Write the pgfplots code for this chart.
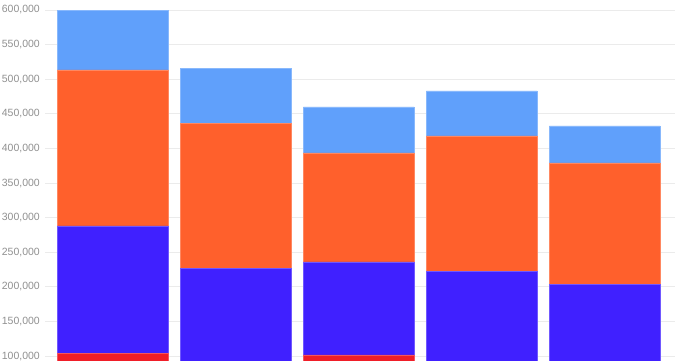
\documentclass[border=0pt]{standalone}
\usepackage{pgfplots}
\pgfplotsset{compat=1.18}
\usepackage{fontspec}
\setmainfont{Liberation Sans}
\definecolor{cLB}{HTML}{60A0FB}
\definecolor{cOR}{HTML}{FF602C}
\definecolor{cBL}{HTML}{4020FF}
\definecolor{cRD}{HTML}{F01E28}
\definecolor{cGrid}{HTML}{EBEBEB}
\definecolor{cTxt}{HTML}{909090}
\begin{document}
\begin{tikzpicture}
\begin{axis}[
  at={(0,-65.21pt)}, anchor=south west,
  width=630pt, height=415.21pt, scale only axis,
  ybar stacked, bar width=0.9,
  xmin=-0.55, xmax=4.57,
  ymin=0, ymax=600000,
  axis line style={draw=none},
  xtick=\empty,
  ytick={100000,150000,...,600000},
  ymajorgrids, grid style={cGrid, line width=0.8pt},
  major tick length=0pt,
  scaled y ticks=false,
  /pgf/number format/.cd, fixed, 1000 sep={,}, assume math mode=true,
  /pgfplots/.cd,
  yticklabel style={font=\fontsize{10.5}{12}\selectfont, text=cTxt, anchor=east, inner sep=0pt, xshift=-5pt},
]
\addplot[fill=cRD, draw=cRD!75!white, line width=0.6pt] coordinates {(0,104000) (1,80000) (2,101500) (3,78000) (4,76000)};
\addplot[fill=cBL, draw=cBL!75!white, line width=0.6pt] coordinates {(0,184000) (1,147000) (2,134500) (3,144500) (4,128000)};
\addplot[fill=cOR, draw=cOR!75!white, line width=0.6pt] coordinates {(0,225500) (1,209500) (2,157500) (3,195500) (4,175000)};
\addplot[fill=cLB, draw=cLB!75!white, line width=0.6pt] coordinates {(0,86500) (1,79500) (2,66500) (3,65000) (4,53500)};
\end{axis}
\pgfresetboundingbox
\path (-45pt,0pt) rectangle (630pt,360pt);
\end{tikzpicture}
\end{document}
